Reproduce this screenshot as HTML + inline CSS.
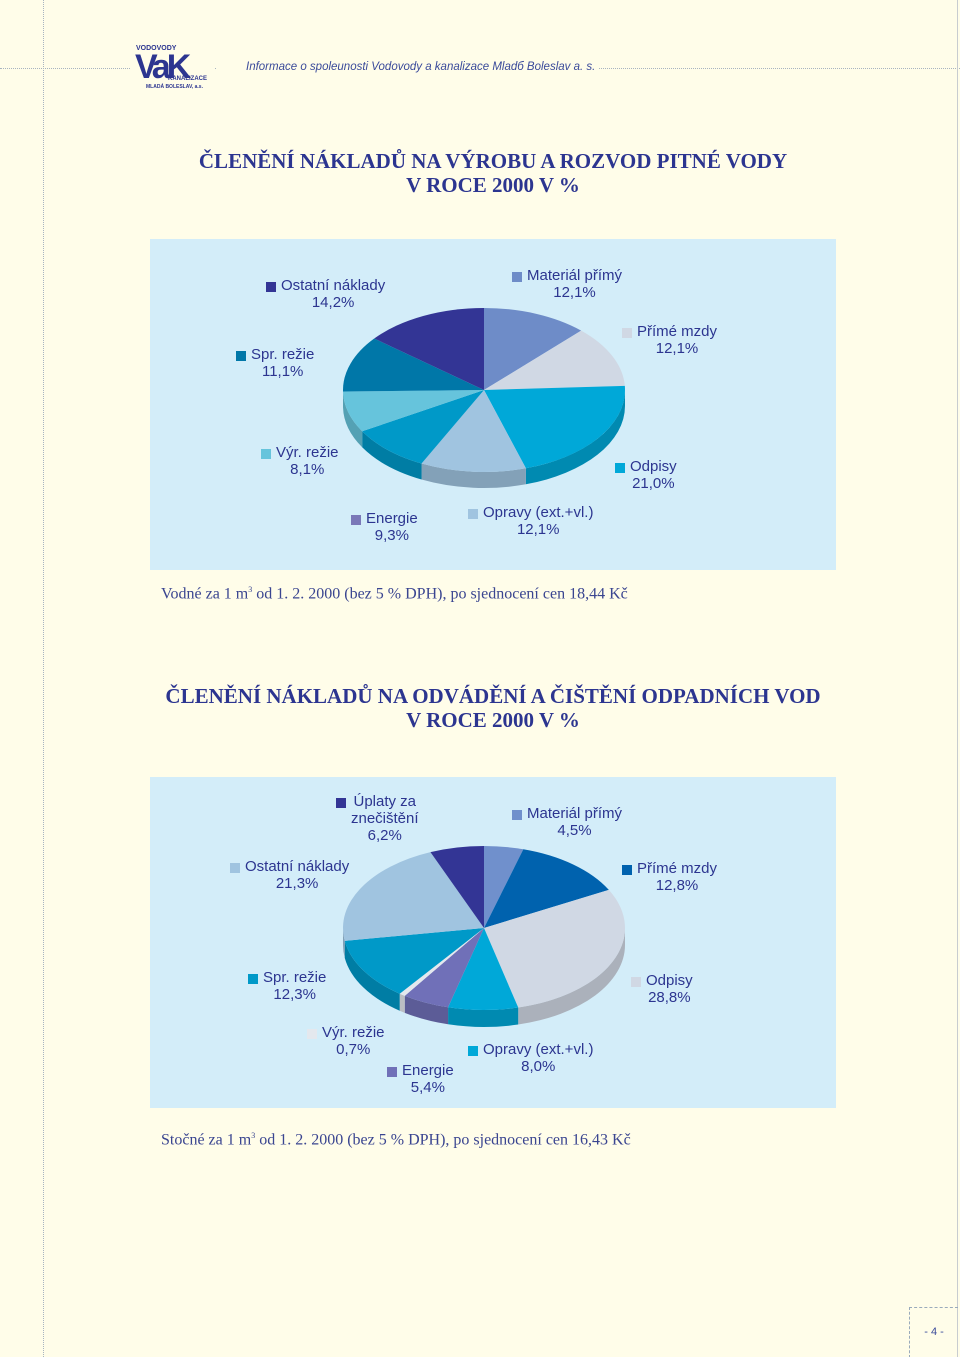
<!DOCTYPE html>
<html><head><meta charset="utf-8">
<style>
body{margin:0;background:#fffde9;}
#page{position:relative;width:960px;height:1357px;overflow:hidden;background:#fffde9;font-family:"Liberation Sans",sans-serif;}
.abs{position:absolute;}
.title{position:absolute;left:0;width:986px;text-align:center;font-family:"Liberation Serif",serif;font-weight:bold;font-size:21px;color:#2c3590;line-height:24px;}
.panel{position:absolute;left:150px;width:686px;background:#d3edf9;}
.lg{position:absolute;font-size:15px;color:#2c3590;line-height:17px;text-align:center;white-space:nowrap;}
.sq{position:absolute;width:10px;height:10px;}
.cap{position:absolute;left:161px;font-family:"Liberation Serif",serif;font-size:16px;color:#3a4590;}
</style></head><body>
<div id="page">
<div class="abs" style="left:0;top:68px;width:960px;border-top:1px dotted #a8b4c0;"></div>
<div class="abs" style="left:43px;top:0;height:1357px;border-left:1px dotted #a8b4c0;"></div>
<div class="abs" style="left:957px;top:0;height:1357px;border-left:1px solid #c8ccd0;"></div>
<div class="abs" style="left:130px;top:44px;width:84px;height:48px;background:#fffde9;">
 <div style="position:absolute;left:5px;top:6px;font:900 34px 'Liberation Sans',sans-serif;color:#2c3590;letter-spacing:-4px;line-height:34px;">VaK</div>
 <div style="position:absolute;left:6px;top:1px;font:bold 7px 'Liberation Sans';color:#2c3590;">VODOVODY</div>
 <div style="position:absolute;left:38px;top:32px;font:bold 6px 'Liberation Sans';color:#2c3590;">KANALIZACE</div>
 <div style="position:absolute;left:16px;top:40px;font:bold 5px 'Liberation Sans';color:#2c3590;">MLADÁ BOLESLAV, a.s.</div>
</div>
<div class="abs" style="left:216px;top:61px;font-style:italic;font-size:11.5px;color:#3a4a9a;background:#fffde9;padding:0 4px 0 30px;">Informace o spoleunosti Vodovody a kanalizace Mladб Boleslav a. s.</div>

<div class="title" style="top:149px;">ČLENĚNÍ NÁKLADŮ NA VÝROBU A ROZVOD PITNÉ VODY<br>V ROCE 2000 V %</div>
<div class="panel" style="top:239px;height:331px;"></div>
<div class="cap" style="top:585px;">Vodné za 1 m<sup style="font-size:8px">3</sup> od 1. 2. 2000 (bez 5 % DPH), po sjednocení cen 18,44 Kč</div>

<div class="title" style="top:684px;">ČLENĚNÍ NÁKLADŮ NA ODVÁDĚNÍ A ČIŠTĚNÍ ODPADNÍCH VOD<br>V ROCE 2000 V %</div>
<div class="panel" style="top:777px;height:331px;"></div>
<div class="cap" style="top:1131px;">Stočné za 1 m<sup style="font-size:8px">3</sup> od 1. 2. 2000 (bez 5 % DPH), po sjednocení cen 16,43 Kč</div>

<div class="abs" style="left:909px;top:1307px;width:48px;height:50px;border-left:1px dashed #9ab;border-top:1px dashed #9ab;font-size:11px;color:#3a4a9a;text-align:center;line-height:48px;">- 4 -</div>

<svg id="svg" class="abs" style="left:0;top:0" width="960" height="1357"></svg>
</div>
<script>
// chart 1 data
const c1Labels=["Materiál přímý","Přímé mzdy","Odpisy","Opravy (ext.+vl.)","Energie","Výr. režie","Spr. režie","Ostatní náklady"];
const c1Values=[12.1,12.1,21.0,12.1,9.3,8.1,11.1,14.2];
const c1Text=["12,1%","12,1%","21,0%","12,1%","9,3%","8,1%","11,1%","14,2%"];
// chart 2 data
const c2Labels=["Materiál přímý","Přímé mzdy","Odpisy","Opravy (ext.+vl.)","Energie","Výr. režie","Spr. režie","Ostatní náklady","Úplaty za|znečištění"];
const c2Values=[4.5,12.8,28.8,8.0,5.4,0.7,12.3,21.3,6.2];
const c2Text=["4,5%","12,8%","28,8%","8,0%","5,4%","0,7%","12,3%","21,3%","6,2%"];

const c1Colors=["#6e8cc8","#d0d8e4","#00a8d8","#a0c4e0","#0099c8","#66c4dc","#0077a8","#333595"];
const c1Legend=["#6e8cc8","#d0d8e4","#00a8d8","#a0c4e0","#7a78b8","#66c4dc","#0077a8","#333595"];
const c1Pos=[[512,271],[622,327],[615,462],[468,508],[351,514],[261,448],[236,350],[266,281]];
const c2Colors=["#7090cc","#0062ae","#d0d8e4","#00a8d8","#7070b8","#e4e8ee","#0099c8","#a0c4e0","#333595"];
const c2Pos=[[512,809],[622,864],[631,976],[468,1045],[387,1066],[307,1028],[248,973],[230,862],[336,797]];

const svg=document.getElementById('svg');
const NS="http://www.w3.org/2000/svg";
function shade(h,f){const n=parseInt(h.slice(1),16);let r=n>>16,g=(n>>8)&255,b=n&255;r=Math.round(r*f);g=Math.round(g*f);b=Math.round(b*f);return "rgb("+r+","+g+","+b+")";}
function pie(vals,cols,cx,cy,rx,ry,d,name){
  const tot=vals.reduce((a,b)=>a+b,0);
  const P=t=>[cx+rx*Math.sin(t),cy-ry*Math.cos(t)];
  let a=0;const segs=[];
  vals.forEach(v=>{const b=a+v/tot*2*Math.PI;segs.push([a,b]);a=b;});
  segs.forEach((s,i)=>{
    const a0=Math.max(s[0],Math.PI/2),a1=Math.min(s[1],3*Math.PI/2);
    if(a1>a0){
      const p0=P(a0),p1=P(a1);
      const p=document.createElementNS(NS,'path');
      p.setAttribute('d',`M${p0[0]},${p0[1]} A${rx},${ry} 0 0 1 ${p1[0]},${p1[1]} L${p1[0]},${p1[1]+d} A${rx},${ry} 0 0 0 ${p0[0]},${p0[1]+d} Z`);
      p.setAttribute('fill',shade(cols[i],0.82));
      
      
      svg.appendChild(p);
    }
  });
  segs.forEach((s,i)=>{
    const p0=P(s[0]),p1=P(s[1]);const large=(s[1]-s[0])>Math.PI?1:0;
    const p=document.createElementNS(NS,'path');
    p.setAttribute('d',`M${cx},${cy} L${p0[0]},${p0[1]} A${rx},${ry} 0 ${large} 1 ${p1[0]},${p1[1]} Z`);
    p.setAttribute('fill',cols[i]);
    
    
    svg.appendChild(p);
  });
}
pie(c1Values,c1Colors,484,390,141,82,16,'chart1');
pie(c2Values,c2Colors,484,928,141,82,17,'chart2');

const page=document.getElementById('page');
function legend(labels,texts,cols,pos,name){
  labels.forEach((l,i)=>{
    const [x,y]=pos[i];
    const sq=document.createElement('div');sq.className='sq';
    sq.style.left=x+'px';sq.style.top=(y+1)+'px';sq.style.background=cols[i];
    
    
    page.appendChild(sq);
    const lines=l.split('|');
    const t=document.createElement('div');t.className='lg';
    t.style.left=(x+15)+'px';t.style.top=(y-4)+'px';
    t.innerHTML=lines.join('<br>')+'<br>'+texts[i];
    
    
    page.appendChild(t);
  });
}
legend(c1Labels,c1Text,c1Legend,c1Pos,'chart1');
legend(c2Labels,c2Text,c2Colors,c2Pos,'chart2');
</script>
</body></html>
